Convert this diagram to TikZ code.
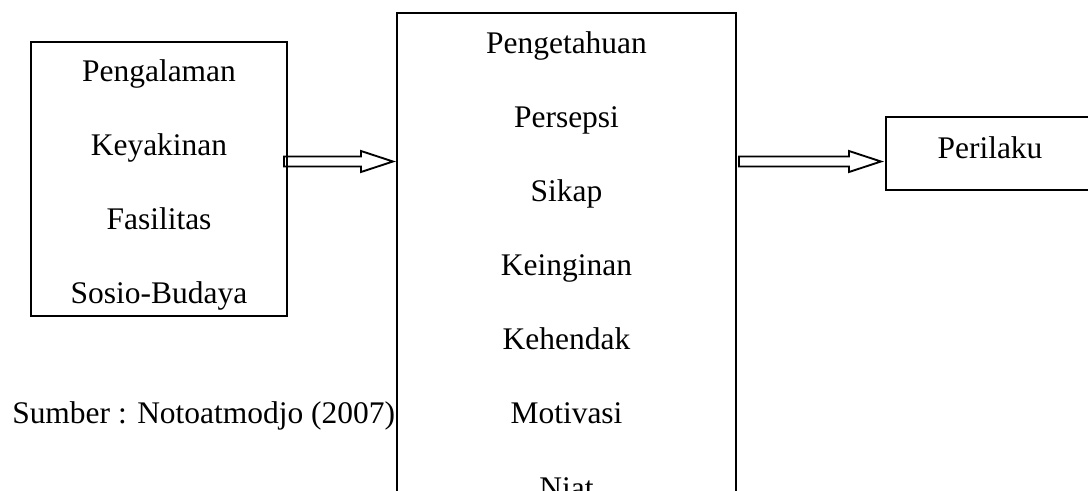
\documentclass[tikz,border=0pt]{standalone}
\usepackage{fontspec}
\setmainfont{Liberation Serif}
\usetikzlibrary{calc,positioning}
\tikzset{
  factor box/.style={draw=black, line width=1.5pt, inner sep=0pt},
  factor item/.style={font=\fontsize{23.6}{28}\selectfont, text height=17pt, text depth=5pt,
    inner sep=0pt, anchor=north},
  block arrow/.style={draw=black, line width=1.4pt, line join=miter},
  source note/.style={font=\fontsize{23.6}{28}\selectfont, inner sep=0pt, anchor=base west},
}
\newcommand{\itemgap}{33.2pt}
\newcommand{\blockarrow}[2]{%
  \draw[block arrow] ($(#1)+(0,-5)$) -- ($(#2)+(-32,-5)$) -- ($(#2)+(-32,-10.5)$) -- (#2)
    -- ($(#2)+(-32,10.5)$) -- ($(#2)+(-32,5)$) -- ($(#1)+(0,5)$) -- cycle;}

\begin{document}
\begin{tikzpicture}[x=0.75pt, y=-0.75pt]
  \useasboundingbox (0,0) rectangle (1088,490);
  \clip (0,0) rectangle (1088,490);

  % Three boxes: factors, inner process, behaviour.
  \node[factor box, minimum width=192pt, minimum height=205.5pt] (factors) at (159,179) {};
  \node[factor box, minimum width=254.25pt, minimum height=410.25pt] (process) at (566.5,286.5) {};
  \node[factor box, minimum width=156pt, minimum height=54.75pt] (behaviour) at (990,153.5) {};

  \node[factor item] (pengalaman) at ([yshift=-13pt]factors.north) {Pengalaman};
  \node[factor item, below=\itemgap of pengalaman] (keyakinan) {Keyakinan};
  \node[factor item, below=\itemgap of keyakinan] (fasilitas) {Fasilitas};
  \node[factor item, below=\itemgap of fasilitas] (sosio) {Sosio-Budaya};

  \node[factor item] (pengetahuan) at ([yshift=-13.75pt]process.north) {Pengetahuan};
  \node[factor item, below=\itemgap of pengetahuan] (persepsi) {Persepsi};
  \node[factor item, below=\itemgap of persepsi] (sikap) {Sikap};
  \node[factor item, below=\itemgap of sikap] (keinginan) {Keinginan};
  \node[factor item, below=\itemgap of keinginan] (kehendak) {Kehendak};
  \node[factor item, below=\itemgap of kehendak] (motivasi) {Motivasi};
  \node[factor item, below=\itemgap of motivasi] (niat) {Niat};

  \node[factor item, anchor=base] (perilaku) at ([yshift=-3.4pt]behaviour.center) {Perilaku};

  \node[source note] (source) at (12,423) {Sumber : Notoatmodjo (2007)};

  % Hollow block arrows between the boxes.
  \coordinate (tailA) at ($(factors.east)+(-4,-17.5)$);
  \coordinate (tipA) at ($(process.west)+(-3,-125)$);
  \coordinate (tailB) at ($(process.east)+(2,-125)$);
  \coordinate (tipB) at ($(behaviour.west)+(-4,8)$);
  \blockarrow{tailA}{tipA}
  \blockarrow{tailB}{tipB}
\end{tikzpicture}
\end{document}
